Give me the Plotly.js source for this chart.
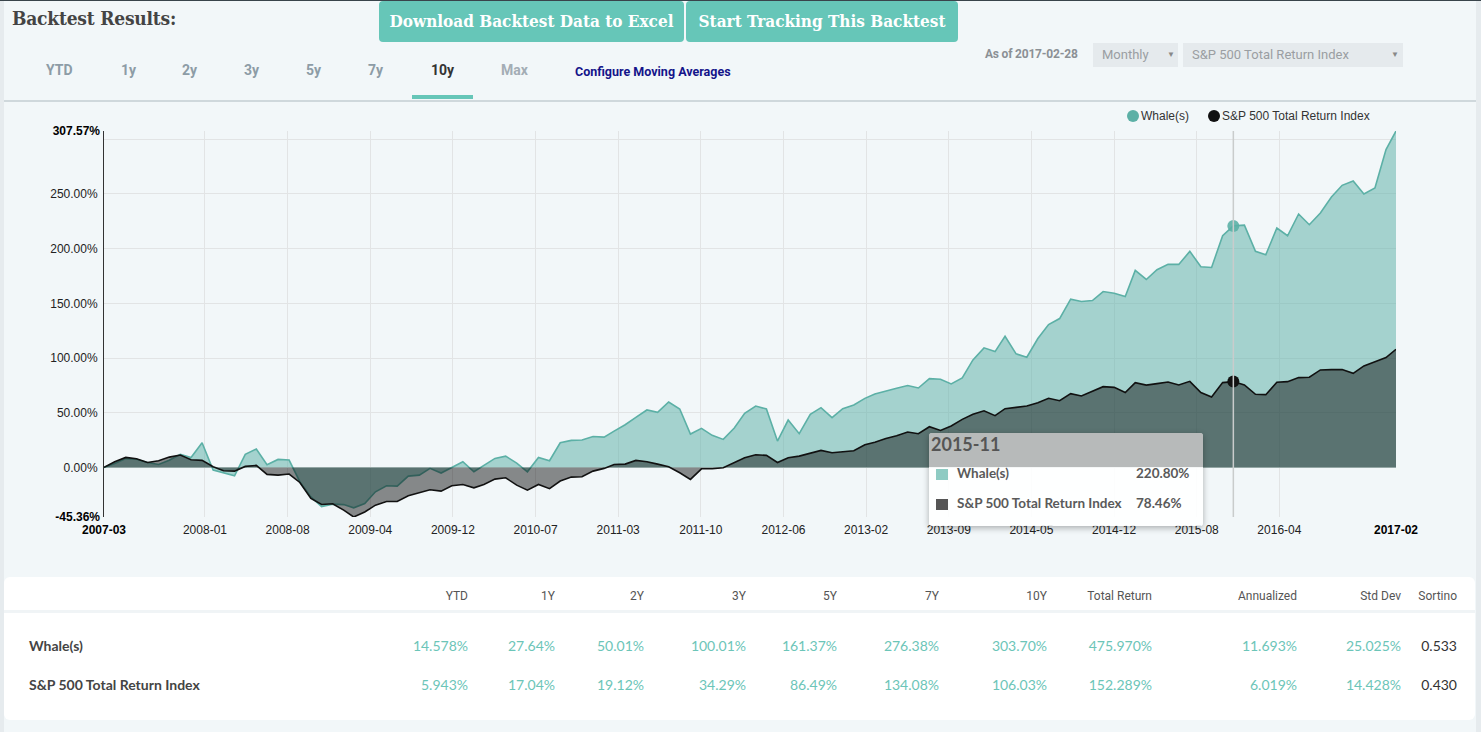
<!DOCTYPE html>
<html>
<head>
<meta charset="utf-8">
<script src="https://cdn.plot.ly/plotly-3.0.1.min.js"></script>
<style>
  html, body { margin:0; padding:0; width:1481px; height:732px; overflow:hidden; background:#e6ebee; }
  #page { position:absolute; left:4px; top:0; width:1472px; height:732px; background:#f2f7f9; }
  #topline { position:absolute; left:0; top:0; width:1481px; height:1px; background:#39444b; z-index:5; }
  .abs { position:absolute; white-space:nowrap; }
  #title { left:12px; top:7px; font-family:"DejaVu Serif Condensed","DejaVu Serif",serif; font-weight:bold; font-size:19px; color:#444; letter-spacing:-0.2px; }
  .btn { top:1px; height:41px; background:#66c6b8; color:#fff; border-radius:4px; font-family:"DejaVu Serif Condensed","DejaVu Serif",serif; font-weight:bold; font-size:17px; line-height:41px; text-align:center; }
  .tab { top:62px; font-family:Roboto,sans-serif; font-weight:bold; font-size:14px; color:#8d9ca6; }
  #cfg { left:575px; top:64px; font-family:Roboto,sans-serif; font-weight:bold; font-size:12.5px; color:#14148a; }
  #uline { left:412px; top:95px; width:61px; height:4px; background:#66c6b8; }
  #sep { left:4px; top:100px; width:1472px; height:2px; background:#cfd8dc; }
  #asof { left:985px; top:47px; font-family:Roboto,sans-serif; font-weight:bold; font-size:12px; color:#8b9095; letter-spacing:-0.2px; }
  .sel { top:43px; height:24px; background:#e5eaed; font-family:Roboto,sans-serif; font-size:13px; color:#9a9ea2; line-height:24px; }
  .sel .arr { position:absolute; top:0; font-size:8px; color:#888; }
  #chart { position:absolute; left:0; top:100px; width:1481px; height:470px; }
  .leg { top:109px; font-family:Arial,"Liberation Sans",sans-serif; font-size:12px; color:#333; line-height:14px; }
  .dot { position:absolute; width:12px; height:12px; border-radius:6px; top:110px; }
  #tip { left:929px; top:433px; width:274px; height:93px; background:rgba(255,255,255,0.9); border-radius:3px; box-shadow:0 2px 6px rgba(0,0,0,0.3); overflow:hidden; z-index:10; font-family:Lato,sans-serif; color:#555; }
  #tiph { position:absolute; left:0; top:0; width:274px; height:34px; background:rgba(160,163,162,0.7); }
  #tiph span { position:absolute; left:2px; top:0px; font-weight:bold; font-size:18px; color:#555; }
  .tr { position:absolute; left:0; width:274px; font-size:13.5px; font-weight:bold; color:#5a5a5a; }
  .sw { position:absolute; left:7px; width:12px; height:11px; }
  #card { left:4px; top:577px; width:1471px; height:143px; background:#fff; border-radius:6px; }
  #cardsep { left:4px; top:610px; width:1471px; height:3px; background:#f0f4f6; }
  .th { top:589px; font-family:Roboto,sans-serif; font-size:12px; color:#555; }
  .rl { font-family:Lato,sans-serif; font-weight:bold; font-size:14px; color:#444; left:29px; }
  .cv { font-family:Lato,sans-serif; font-size:14px; color:#6cc5b8; }
</style>
</head>
<body>
<div id="topline"></div>
<div id="page"></div>
<div id="chart"></div>
<script>
// ---------------- data ----------------
var startMonth = '2007-03';
var whale = [0, 3.5, 8, 7.5, 4.5, 2.7, 6.5, 12, 9, 22.5,
  -2.5, -4.9, -7.7, 11.9, 16.8, 2.4, 7.3, 6.7, -13.1, -27,
  -35.8, -33.6, -34, -37, -33, -22.3, -16.8, -17.1, -8, -7.1,
  -0.9, -5.2, -0.3, 5.2, -4, 1.8, 8.2, 10.3, 3.9, -4,
  9.1, 6.1, 22.5, 24.7, 25, 28.3, 27.7, 33.2, 39, 45.8,
  52.5, 50.3, 59.8, 53.4, 30.5, 35.7, 29.3, 25.6, 36, 49.4,
  56.1, 53.4, 24.1, 43.3, 30.8, 48.5, 54.6, 45.5, 53.7, 57,
  63.1, 67.1, 70, 72.3, 74.8, 72.6, 81.2, 80.6, 76.3, 81.8,
  98.3, 109.3, 105.9, 119.9, 103.8, 100.7, 117.8, 130.6, 136.1, 153.8,
  151.7, 152.6, 160.8, 159.3, 156.3, 180.1, 171.8, 180.7, 185.6, 185.6,
  197.5, 183.5, 182.8, 211.8, 220.8, 221.5, 197.5, 194.4, 218.9, 211.8,
  231.7, 221.9, 232.6, 247.2, 257.9, 261.8, 250, 255.5, 290.6, 307.57];
var spx = [0, 5.2, 9.1, 7.9, 4.5, 6.1, 9.4, 11.3, 7, 6.4,
  0.6, -3.1, -3.4, 0.9, 1.8, -6.4, -7.1, -6.1, -13.8, -28.4,
  -33.9, -33.3, -39.1, -45.36, -40.8, -34.5, -31.2, -31.2, -26, -22.9,
  -20.5, -21.7, -16.8, -15.6, -18.7, -15.6, -10.7, -9.5, -16.2, -20.8,
  -15.6, -19.5, -12.5, -8.9, -8.6, -3.4, -0.9, 2.7, 3, 6.4,
  5.1, 3, 0.6, -4.9, -11, -1.3, -1.3, -0.3, 4.5, 8.8,
  11.6, 11, 4.5, 8.8, 10.3, 12.8, 15.5, 13.4, 14, 15.2,
  20.7, 22.9, 26.5, 29, 32.3, 30.8, 37.2, 33.8, 37.8, 43.9,
  48.5, 51.8, 47.3, 53.7, 54.9, 56.1, 59.2, 63.2, 61, 67.4,
  65.3, 69.5, 73.8, 73.2, 68.4, 77.5, 75.2, 76.6, 78.1, 75.4,
  78.7, 68.4, 64.4, 77.5, 78.46, 75.4, 66.8, 66.5, 77.8, 78.4,
  82.1, 82.4, 89.1, 89.4, 89.4, 86, 92.8, 96.7, 100.4, 108];
var seriesNames = ['Whale(s)', 'S&P 500 Total Return Index'];
var hoverMonth = '2015-11';
var yTickVals = [0, 50, 100, 150, 200, 250, 300];
var yTickText = ['0.00%', '50.00%', '100.00%', '150.00%', '200.00%', '250.00%', ''];
var statCols = ['YTD', '1Y', '2Y', '3Y', '5Y', '7Y', '10Y', 'Total Return', 'Annualized', 'Std Dev', 'Sortino'];
var statWhale = ['14.578%', '27.64%', '50.01%', '100.01%', '161.37%', '276.38%', '303.70%', '475.970%', '11.693%', '25.025%', '0.533'];
var statSpx = ['5.943%', '17.04%', '19.12%', '34.29%', '86.49%', '134.08%', '106.03%', '152.289%', '6.019%', '14.428%', '0.430'];
var tabs = ['YTD', '1y', '2y', '3y', '5y', '7y', '10y', 'Max'];

// ---------------- helpers ----------------
function pad(n) { return (n < 10 ? '0' : '') + n; }
var sy = +startMonth.slice(0, 4), sm = +startMonth.slice(5, 7) - 1;
var dates = whale.map(function (_, i) {
  var d = new Date(Date.UTC(sy, sm + i + 1, 0));
  return d.getUTCFullYear() + '-' + pad(d.getUTCMonth() + 1) + '-' + pad(d.getUTCDate());
});
var months = dates.map(function (d) { return d.slice(0, 7); });
var hi = months.indexOf(hoverMonth);
var ymin = Math.min.apply(null, whale.concat(spx));
var ymax = Math.max.apply(null, whale.concat(spx));
var xr = [dates[0], dates[dates.length - 1]];

// evenly spaced interior time ticks
var DAY = 86400000;
var t0 = Date.UTC(2008, 0, 8), step = 231.7 * DAY;
var xTicks = [];
for (var k = 0; k < 14; k++) {
  var d = new Date(t0 + k * step);
  xTicks.push(d.toISOString().slice(0, 16).replace('T', ' '));
}

var teal = '#5cb0a6', black = '#111';
var traces = [
  { x: dates, y: whale, type: 'scatter', mode: 'lines', fill: 'tozeroy', name: seriesNames[0],
    line: { color: teal, width: 1.6 }, fillcolor: 'rgba(92,176,166,0.52)', hoverinfo: 'skip' },
  { x: dates, y: spx, type: 'scatter', mode: 'lines', fill: 'tozeroy', name: seriesNames[1],
    line: { color: black, width: 1.6 }, fillcolor: 'rgba(0,0,0,0.45)', hoverinfo: 'skip' },
  { x: [dates[hi]], y: [whale[hi]], xaxis: 'x2', yaxis: 'y2', type: 'scatter', mode: 'markers',
    marker: { color: teal, size: 12, opacity: 0.9 }, hoverinfo: 'skip' },
  { x: [dates[hi]], y: [spx[hi]], xaxis: 'x2', yaxis: 'y2', type: 'scatter', mode: 'markers',
    marker: { color: black, size: 12 }, hoverinfo: 'skip' }
];

var fontF = 'Arial, "Liberation Sans", sans-serif';
var layout = {
  width: 1481, height: 470,
  margin: { l: 104, r: 85, t: 31, b: 53 },
  paper_bgcolor: 'rgba(0,0,0,0)', plot_bgcolor: 'rgba(0,0,0,0)',
  showlegend: false,
  font: { family: fontF, size: 12, color: '#222' },
  xaxis: { type: 'date', range: xr, tickvals: xTicks, tickformat: '%Y-%m', showgrid: true,
    gridcolor: '#e2e4e5', gridwidth: 1, zeroline: false, showline: false, ticks: '',
    tickfont: { family: fontF, size: 12, color: '#222' }, ticklabelstandoff: 4, fixedrange: true },
  yaxis: { range: [ymin, ymax], tickvals: yTickVals, ticktext: yTickText, showgrid: true,
    gridcolor: '#e2e4e5', gridwidth: 1, zeroline: false, showline: true, linecolor: '#333', linewidth: 1,
    ticks: '', tickfont: { family: fontF, size: 12, color: '#222' }, ticklabelstandoff: 3, fixedrange: true },
  xaxis2: { type: 'date', overlaying: 'x', anchor: 'y2', side: 'bottom', range: xr,
    tickvals: xr, tickformat: '%Y-%m', showgrid: false, zeroline: false, showline: false, ticks: '',
    tickfont: { family: fontF, size: 12, color: '#000', weight: 'bold' }, ticklabelstandoff: 4, fixedrange: true },
  yaxis2: { overlaying: 'y', anchor: 'x2', side: 'left', range: [ymin, ymax],
    tickvals: [ymin, ymax], ticktext: [ymin.toFixed(2) + '%', ymax.toFixed(2) + '%'],
    showgrid: false, zeroline: false, showline: false, ticks: '',
    tickfont: { family: fontF, size: 12, color: '#000', weight: 'bold' }, ticklabelstandoff: 3, fixedrange: true },
  shapes: [
    { type: 'line', xref: 'x', yref: 'paper', x0: dates[hi], x1: dates[hi], y0: 0, y1: 1,
      line: { color: '#c9cccc', width: 1.5 }, layer: 'above' }
  ]
};
Plotly.newPlot('chart', traces, layout, { displayModeBar: false, staticPlot: true });

// ---------------- page chrome ----------------
function el(html) { document.body.insertAdjacentHTML('beforeend', html); }
el('<div id="title" class="abs">Backtest Results:</div>');
el('<div class="abs btn" style="left:379px;width:305px;">Download Backtest Data to Excel</div>');
el('<div class="abs btn" style="left:686px;width:272px;">Start Tracking This Backtest</div>');
var tabX = [46, 121, 182, 244, 306, 368, 431, 501];
tabs.forEach(function (t, i) {
  var c = t === '10y' ? '#333' : (t === 'Max' ? '#a3adb5' : '#8d9ca6');
  el('<div class="abs tab" style="left:' + tabX[i] + 'px;color:' + c + '">' + t + '</div>');
});
el('<div id="cfg" class="abs">Configure Moving Averages</div>');
el('<div id="uline" class="abs"></div>');
el('<div id="sep" class="abs"></div>');
el('<div id="asof" class="abs">As of ' + dates[dates.length - 1] + '</div>');
el('<div class="abs sel" style="left:1093px;width:85px;"><span style="position:absolute;left:9px;">Monthly</span><span class="arr" style="left:74px;">&#9660;</span></div>');
el('<div class="abs sel" style="left:1183px;width:220px;"><span style="position:absolute;left:9px;">' + seriesNames[1] + '</span><span class="arr" style="left:208px;">&#9660;</span></div>');

// legend
el('<div class="dot" style="left:1127px;background:' + teal + '"></div>');
el('<div class="abs leg" style="left:1141px;">' + seriesNames[0] + '</div>');
el('<div class="dot" style="left:1208px;background:' + black + '"></div>');
el('<div class="abs leg" style="left:1222px;">' + seriesNames[1] + '</div>');

// tooltip
el('<div id="tip" class="abs"><div id="tiph"><span>' + hoverMonth + '</span></div>' +
  '<div class="sw" style="top:36px;background:#8ecbc3"></div>' +
  '<div class="tr" style="top:32px;"><span style="position:absolute;left:28px;">' + seriesNames[0] + '</span><span style="position:absolute;left:207px;">' + whale[hi].toFixed(2) + '%</span></div>' +
  '<div class="sw" style="top:66px;background:#555"></div>' +
  '<div class="tr" style="top:62px;"><span style="position:absolute;left:28px;">' + seriesNames[1] + '</span><span style="position:absolute;left:207px;">' + spx[hi].toFixed(2) + '%</span></div>' +
  '</div>');

// stats table
el('<div id="card" class="abs"></div>');
el('<div id="cardsep" class="abs"></div>');
var colRight = [468, 555, 644, 746, 837, 939, 1047, 1152, 1297, 1401, 1457];
statCols.forEach(function (c, i) {
  el('<div class="abs th" style="right:' + (1481 - colRight[i]) + 'px">' + c + '</div>');
});
el('<div class="abs rl" style="top:637px;">' + seriesNames[0] + '</div>');
el('<div class="abs rl" style="top:676px;">' + seriesNames[1] + '</div>');
[statWhale, statSpx].forEach(function (row, r) {
  row.forEach(function (v, i) {
    var col = i === row.length - 1 ? '#333' : '#6cc5b8';
    el('<div class="abs cv" style="top:' + (637 + 39 * r) + 'px;right:' + (1481 - colRight[i]) + 'px;color:' + col + '">' + v + '</div>');
  });
});
</script>
</body>
</html>
